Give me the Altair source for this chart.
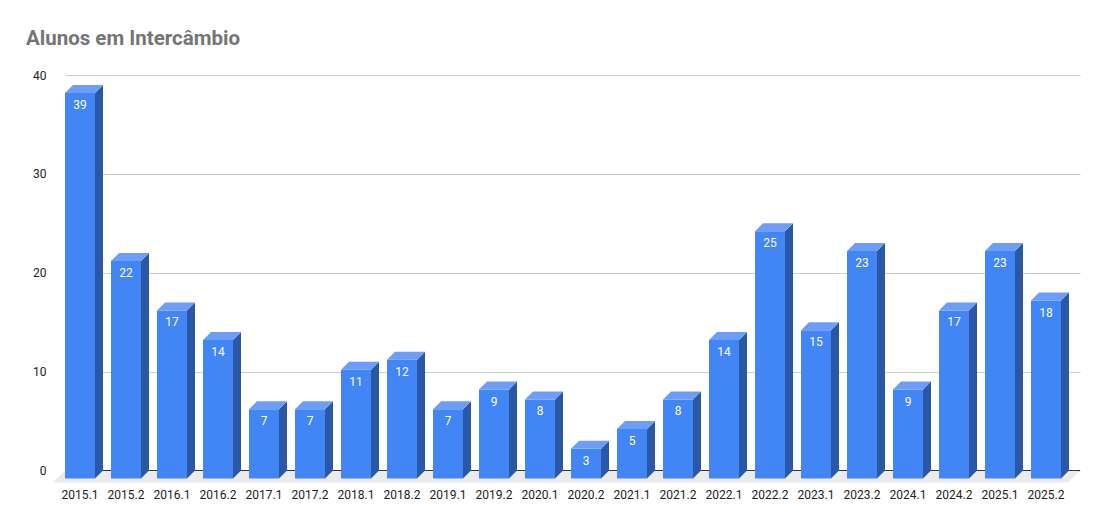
import altair as alt
import pandas as pd

# ---- data ----
periods = ["2015.1", "2015.2", "2016.1", "2016.2", "2017.1", "2017.2", "2018.1", "2018.2",
           "2019.1", "2019.2", "2020.1", "2020.2", "2021.1", "2021.2", "2022.1", "2022.2",
           "2023.1", "2023.2", "2024.1", "2024.2", "2025.1", "2025.2"]
students = [39, 22, 17, 14, 7, 7, 11, 12, 7, 9, 8, 3, 5, 8, 14, 25, 15, 23, 9, 17, 23, 18]
y_ticks = [0, 10, 20, 30, 40]
title_text = "Alunos em Intercâmbio"

# ---- layout / style constants (pixels) ----
PLOT_W = 1015
PLOT_H = 395.5
Y_MAX = 40
STEP_PX = 46      # distance between bars
BAR_PX = 30       # bar front width
DEPTH_PX = 8      # 3D depth of bars
FLOOR_PX = 12     # 3D depth of floor

FRONT = "#4285F4"
SIDE = "#2B57A7"
TOP = "#6D9DF6"
FLOOR = "#EBEBEB"
FONT = "Roboto"

x_max = PLOT_W / STEP_PX
bw = BAR_PX / STEP_PX
dxu = DEPTH_PX / STEP_PX
dyu = DEPTH_PX * Y_MAX / PLOT_H
fx = FLOOR_PX / STEP_PX
fy = FLOOR_PX * Y_MAX / PLOT_H

# ---- geometry derived from the data (in scale units) ----
front_rows, side_rows, top_rows = [], [], []
for i, (p, n) in enumerate(zip(periods, students)):
    front_rows.append({"period": p, "n": n, "x0": i, "x1": i + bw, "xc": i + bw / 2,
                       "ytop": n - dyu, "ybot": -dyu, "base": 0})
    side_rows.append({"period": p, "x": i + bw, "y": n - dyu, "y2": -dyu})
    side_rows.append({"period": p, "x": i + bw + dxu, "y": n, "y2": 0})
    top_rows.append({"period": p, "y": n - dyu, "x": i, "x2": i + bw})
    top_rows.append({"period": p, "y": n, "x": i + dxu, "x2": i + bw + dxu})
front_df = pd.DataFrame(front_rows)
side_df = pd.DataFrame(side_rows)
top_df = pd.DataFrame(top_rows)
floor_df = pd.DataFrame([
    {"y": -fy, "x": -fx, "x2": x_max - fx},
    {"y": 0.0, "x": 0.0, "x2": x_max},
])
zero_df = pd.DataFrame([{"y": 0.0, "x": 0.0, "x2": x_max}])

xs = alt.Scale(domain=[0, x_max], nice=False, zero=False)
ys = alt.Scale(domain=[0, Y_MAX], nice=False, zero=True)
y_axis = alt.Axis(values=y_ticks, grid=True, gridColor="#CCCCCC", domain=False, ticks=False,
                  labelPadding=19, labelFont=FONT, labelFontSize=12, labelColor="#222222",
                  title=None)

floor = alt.Chart(floor_df).mark_area(orient="horizontal", color=FLOOR).encode(
    y=alt.Y("y:Q", scale=ys, axis=y_axis),
    x=alt.X("x:Q", scale=xs, axis=None),
    x2="x2:Q",
)

zero_line = alt.Chart(zero_df).mark_rule(color="#333333", strokeWidth=1).encode(
    y=alt.Y("y:Q", scale=ys, axis=y_axis),
    x=alt.X("x:Q", scale=xs, axis=None),
    x2="x2:Q",
)

front = alt.Chart(front_df).mark_rect(color=FRONT).encode(
    x=alt.X("x0:Q", scale=xs, axis=None),
    x2="x1:Q",
    y=alt.Y("ytop:Q", scale=ys, axis=y_axis),
    y2="ybot:Q",
)

side = alt.Chart(side_df).mark_area(orient="vertical", color=SIDE).encode(
    x=alt.X("x:Q", scale=xs, axis=None),
    y=alt.Y("y:Q", scale=ys, axis=y_axis),
    y2="y2:Q",
    detail="period:N",
)

top = alt.Chart(top_df).mark_area(orient="horizontal", color=TOP).encode(
    y=alt.Y("y:Q", scale=ys, axis=y_axis),
    x=alt.X("x:Q", scale=xs, axis=None),
    x2="x2:Q",
    detail="period:N",
)

value_labels = alt.Chart(front_df).mark_text(
    color="white", font=FONT, fontSize=12, dy=12, baseline="middle", align="center"
).encode(
    x=alt.X("xc:Q", scale=xs, axis=None),
    y=alt.Y("ytop:Q", scale=ys, axis=y_axis),
    text="n:Q",
)

cat_labels = alt.Chart(front_df).mark_text(
    color="#222222", font=FONT, fontSize=12, dy=24, baseline="middle", align="center"
).encode(
    x=alt.X("xc:Q", scale=xs, axis=None),
    y=alt.Y("base:Q", scale=ys, axis=y_axis),
    text="period:N",
)

chart = alt.layer(floor, zero_line, front, side, top, value_labels, cat_labels).properties(
    width=PLOT_W,
    height=PLOT_H,
    background="white",
    title=alt.TitleParams(title_text, anchor="start", frame="group", font=FONT, fontSize=20.5,
                          fontWeight="bold", color="#757575", dx=-39, offset=20),
    autosize=alt.AutoSizeParams(type="none"),
    padding={"left": 57, "top": 67, "right": 18, "bottom": 50},
).configure_view(strokeWidth=0, stroke="transparent")

chart.save("out.html", embed_options={"renderer": "svg", "actions": False})
